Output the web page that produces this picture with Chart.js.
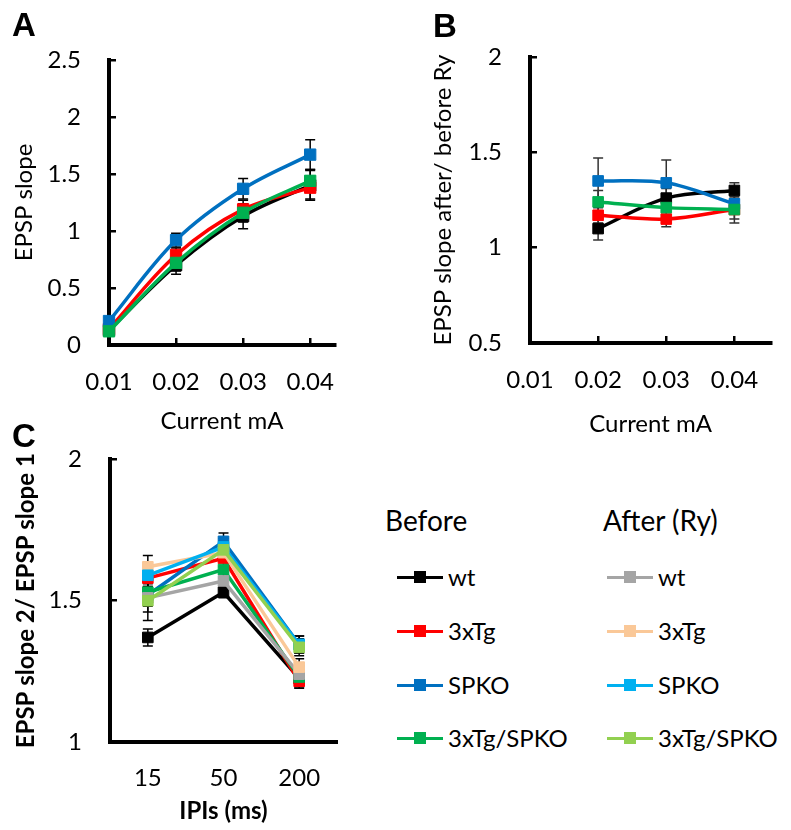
<!DOCTYPE html>
<html>
<head>
<meta charset="utf-8">
<script src="https://cdn.jsdelivr.net/npm/chart.js@4.4.1/dist/chart.umd.min.js"></script>
<style>
  body { margin: 0; background: #fff; font-family: Lato, sans-serif; color: #000; }
  #page { position: relative; width: 791px; height: 830px; overflow: hidden; }
  canvas { position: absolute; }
  .panel { position: absolute; font: bold 33px "Liberation Sans", Arial, sans-serif; line-height: 33px; }
  .head { position: absolute; font-size: 28px; line-height: 34px; white-space: nowrap; }
  .item { position: absolute; display: flex; align-items: center; height: 30px; font-size: 24px; line-height: 30px; white-space: nowrap; }
  .sample { position: relative; width: 46px; height: 30px; margin-right: 5px; }
  .sample .ln { position: absolute; left: 0; right: 0; top: 13.5px; height: 3px; }
  .sample .mk { position: absolute; left: 17px; top: 9px; width: 12px; height: 12px; }
</style>
</head>
<body>
<div id="page">
  <canvas id="chartA" width="370" height="440" style="left:0;top:0"></canvas>
  <canvas id="chartB" width="391" height="440" style="left:400px;top:0"></canvas>
  <canvas id="chartC" width="370" height="420" style="left:0;top:410px"></canvas>
  <div class="panel" style="left:12px;top:8px">A</div>
  <div class="panel" style="left:433px;top:9px">B</div>
  <div class="panel" style="left:12px;top:419px">C</div>
  <div id="legend"></div>
</div>
<script>
// categories
const currents = [0.01, 0.02, 0.03, 0.04];
const currentsB = [0.02, 0.03, 0.04];
const ipis = ['15', '50', '200'];
const groups = ['wt', '3xTg', 'SPKO', '3xTg/SPKO'];

// tick labels
const ticksA = [0, 0.5, 1, 1.5, 2, 2.5];
const ticksB = [0.5, 1, 1.5, 2];
const ticksC = [1, 1.5, 2];

// A - EPSP slope (before)
const aWt = [0.13, 0.70, 1.13, 1.40];
const a3xTg = [0.14, 0.79, 1.19, 1.38];
const aSpko = [0.21, 0.92, 1.37, 1.67];
const a3xTgSpko = [0.12, 0.72, 1.16, 1.44];
const aWtErr = [0.02, 0.08, 0.11, 0.13];
const a3xTgErr = [0.02, 0.06, 0.08, 0.10];
const aSpkoErr = [0.02, 0.06, 0.09, 0.13];
const a3xTgSpkoErr = [0.02, 0.07, 0.08, 0.10];

// B - ratio after/before Ry
const bWt = [1.10, 1.26, 1.30];
const b3xTg = [1.17, 1.15, 1.20];
const bSpko = [1.35, 1.34, 1.23];
const b3xTgSpko = [1.24, 1.21, 1.20];
const bWtErr = [0.06, 0.05, 0.04];
const b3xTgErr = [0.04, 0.04, 0.05];
const bSpkoErr = [0.12, 0.12, 0.05];
const b3xTgSpkoErr = [0.06, 0.05, 0.07];

// C - paired pulse ratio, before and after Ry
const cWt = [1.37, 1.53, 1.225];
const c3xTg = [1.58, 1.65, 1.215];
const cSpko = [1.52, 1.71, 1.345];
const c3xTgSpko = [1.53, 1.61, 1.23];
const cWtRy = [1.51, 1.57, 1.24];
const c3xTgRy = [1.62, 1.67, 1.265];
const cSpkoRy = [1.59, 1.69, 1.345];
const c3xTgSpkoRy = [1.50, 1.68, 1.335];
const cWtErr = [0.03, 0.02, 0.03];
const c3xTgErr = [0.03, 0.03, 0.025];
const cSpkoErr = [0.03, 0.03, 0.03];
const c3xTgSpkoErr = [0.07, 0.03, 0.03];
const cWtRyErr = [0.03, 0.03, 0.03];
const c3xTgRyErr = [0.04, 0.03, 0.03];
const cSpkoRyErr = [0.03, 0.03, 0.03];
const c3xTgSpkoRyErr = [0.07, 0.03, 0.03];

const beforeColors = ['#000000', '#FF0000', '#0070C0', '#00B050'];
const afterColors = ['#A5A5A5', '#FAC898', '#00B0F0', '#92D050'];

Chart.defaults.font.family = 'Lato';
Chart.defaults.color = '#000';

const tickFont = { family: 'Lato', size: 24 };

// error bars drawn under the lines
const errorBars = {
  id: 'errorBars',
  beforeDatasetsDraw(chart, args, opts) {
    const { ctx, scales: { y } } = chart;
    ctx.save();
    ctx.strokeStyle = opts.color;
    ctx.lineWidth = 1.5;
    chart.data.datasets.forEach((ds, i) => {
      chart.getDatasetMeta(i).data.forEach((pt, k) => {
        const d = ds.data[k];
        const v = typeof d === 'object' ? d.y : d;
        const y1 = y.getPixelForValue(v - ds.errors[k]);
        const y2 = y.getPixelForValue(v + ds.errors[k]);
        ctx.beginPath();
        ctx.moveTo(pt.x, y1); ctx.lineTo(pt.x, y2);
        ctx.moveTo(pt.x - 5, y1); ctx.lineTo(pt.x + 5, y1);
        ctx.moveTo(pt.x - 5, y2); ctx.lineTo(pt.x + 5, y2);
        ctx.stroke();
      });
    });
    ctx.restore();
  }
};

function series(label, xs, ys, errs, color, order, tension, radius) {
  return {
    label,
    data: xs ? xs.map((x, k) => ({ x, y: ys[k] })) : ys,
    errors: errs,
    borderColor: color,
    backgroundColor: color,
    borderWidth: 3.5,
    pointStyle: 'rect',
    pointRadius: radius,
    pointBorderWidth: 1,
    tension,
    order,
    clip: false
  };
}

function yAxis(ticks, title, titlePad, bold, width) {
  return {
    min: ticks[0], max: ticks[ticks.length - 1],
    afterBuildTicks: s => { s.ticks = ticks.map(v => ({ value: v })); },
    afterFit: s => { s.width = width; },
    border: { color: '#000', width: 4 },
    grid: { drawOnChartArea: false, color: '#000', lineWidth: 2.5, tickLength: -7 },
    ticks: { color: '#000', padding: 35, font: tickFont, callback: v => String(v) },
    title: { display: true, text: title, color: '#000',
      font: { family: 'Lato', size: 24, weight: bold ? 'bold' : 'normal' }, padding: { top: titlePad, bottom: 0 } }
  };
}

function xCurrent(max, height, titlePad) {
  return {
    type: 'linear', min: 0.01, max,
    afterBuildTicks: s => { s.ticks = currents.map(v => ({ value: v })); },
    afterFit: s => { s.height = height; },
    border: { color: '#000', width: 4 },
    grid: { drawOnChartArea: false, color: '#000', lineWidth: 2.5, tickLength: -7 },
    ticks: { color: '#000', padding: 30, maxRotation: 0, font: tickFont, callback: v => String(v) },
    title: { display: true, text: 'Current mA', color: '#000', font: tickFont, padding: { top: 0, bottom: titlePad } }
  };
}

function makeChart(id, labels, datasets, x, y, padding, barColor) {
  return new Chart(document.getElementById(id), {
    type: 'line',
    data: { labels, datasets },
    options: {
      responsive: false,
      animation: false,
      devicePixelRatio: 1,
      layout: { padding },
      plugins: { legend: { display: false }, tooltip: { enabled: false }, errorBars: { color: barColor } },
      scales: { x, y }
    },
    plugins: [errorBars]
  });
}

// Panel A
const aVals = [aWt, a3xTg, aSpko, a3xTgSpko];
const aErrs = [aWtErr, a3xTgErr, aSpkoErr, a3xTgSpkoErr];
makeChart('chartA', undefined,
  groups.map((g, i) => series(g, currents, aVals[i], aErrs[i], beforeColors[i], 10 - i, 0.35, 8)),
  xCurrent(0.0437, 95, 4),
  yAxis(ticksA, 'EPSP slope', 10, false, 109),
  { top: 60, right: 35, left: 0, bottom: 0 }, '#000');

// Panel B
const bVals = [bWt, b3xTg, bSpko, b3xTgSpko];
const bErrs = [bWtErr, b3xTgErr, bSpkoErr, b3xTgSpkoErr];
makeChart('chartB', undefined,
  groups.map((g, i) => series(g, currentsB, bVals[i], bErrs[i], beforeColors[i], 10 - i, 0.35, 7.5)),
  xCurrent(0.0454, 97, 1),
  yAxis(ticksB, 'EPSP slope after/ before Ry', 29, false, 130),
  { top: 57, right: 19, left: 0, bottom: 0 }, '#333');

// Panel C
const cVals = [cWt, c3xTg, cSpko, c3xTgSpko, cWtRy, c3xTgRy, cSpkoRy, c3xTgSpkoRy];
const cErrs = [cWtErr, c3xTgErr, cSpkoErr, c3xTgSpkoErr, cWtRyErr, c3xTgRyErr, cSpkoRyErr, c3xTgSpkoRyErr];
const cColors = beforeColors.concat(afterColors);
makeChart('chartC', ipis,
  cVals.map((v, i) => series(groups[i % 4], null, v, cErrs[i], cColors[i], 20 - i, 0, 7.5)),
  {
    offset: true,
    afterFit: s => { s.height = 88; },
    border: { color: '#000', width: 4 },
    grid: { display: false, drawTicks: false },
    ticks: { color: '#000', padding: 22, maxRotation: 0, font: tickFont },
    title: { display: true, text: 'IPIs (ms)', color: '#000',
      font: { family: 'Lato', size: 24, weight: 'bold' }, padding: { top: 0, bottom: 4 } }
  },
  yAxis(ticksC, 'EPSP slope 2/ EPSP slope 1', 12, true, 110),
  { top: 43, right: 33, left: 0, bottom: 0 }, '#000');

// Legend for C (two columns)
const legend = document.getElementById('legend');
const rowsY = [577, 631, 685, 738];
[['Before', beforeColors, 385, 397], ['After (Ry)', afterColors, 603, 607]].forEach(([head, colors, hx, sx]) => {
  const h = document.createElement('div');
  h.className = 'head';
  h.style.left = hx + 'px';
  h.style.top = '503px';
  h.textContent = head;
  legend.appendChild(h);
  groups.forEach((g, i) => {
    const it = document.createElement('div');
    it.className = 'item';
    it.style.left = sx + 'px';
    it.style.top = (rowsY[i] - 15) + 'px';
    it.innerHTML = '<div class="sample"><div class="ln" style="background:' + colors[i] +
      '"></div><div class="mk" style="background:' + colors[i] + '"></div></div><span>' + g + '</span>';
    legend.appendChild(it);
  });
});
</script>
</body>
</html>
